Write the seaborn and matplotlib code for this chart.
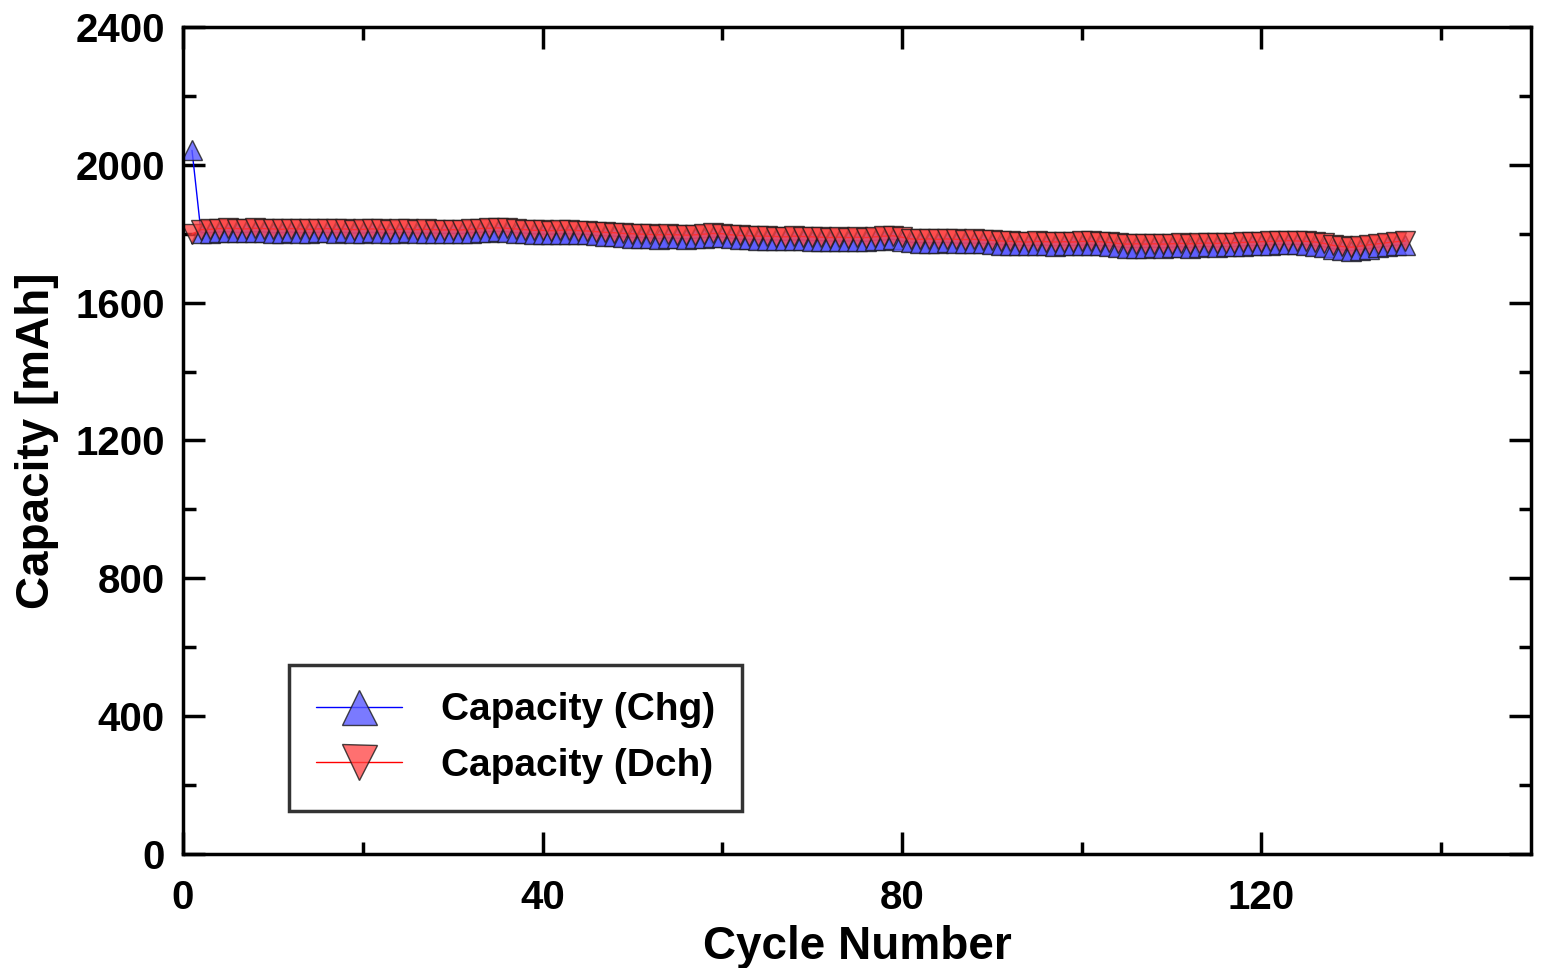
import matplotlib
matplotlib.use("Agg")
import matplotlib.pyplot as plt
import pandas as pd
import numpy as np
import seaborn as sns

# capacity per cycle (mAh)
dch = [1799, 1812, 1813, 1815, 1816, 1815, 1814, 1816, 1815, 1814,
       1813, 1815, 1814, 1813, 1814, 1815, 1813, 1814, 1812, 1813,
       1814, 1813, 1812, 1813, 1814, 1812, 1813, 1812, 1811, 1812,
       1811, 1813, 1815, 1816, 1817, 1816, 1814, 1812, 1810, 1810,
       1809, 1810, 1811, 1809, 1808, 1806, 1804, 1803, 1801, 1800,
       1799, 1798, 1797, 1798, 1797, 1796, 1797, 1799, 1801, 1800,
       1797, 1795, 1794, 1793, 1793, 1792, 1791, 1793, 1792, 1791,
       1790, 1789, 1790, 1789, 1790, 1789, 1791, 1793, 1794, 1790,
       1785, 1784, 1785, 1784, 1785, 1784, 1783, 1784, 1782, 1781,
       1779, 1778, 1777, 1776, 1778, 1777, 1776, 1777, 1776, 1778,
       1778, 1777, 1775, 1772, 1770, 1771, 1770, 1771, 1770, 1771,
       1772, 1771, 1772, 1773, 1772, 1773, 1774, 1775, 1776, 1777,
       1778, 1779, 1780, 1779, 1778, 1776, 1772, 1766, 1763, 1761,
       1764, 1768, 1771, 1774, 1777, 1779]
chg = [2042, 1803, 1803, 1805, 1806, 1804, 1804, 1806, 1805, 1803,
       1803, 1805, 1803, 1803, 1804, 1804, 1803, 1804, 1802, 1802,
       1804, 1803, 1801, 1803, 1804, 1802, 1802, 1802, 1801, 1801,
       1801, 1803, 1804, 1806, 1807, 1806, 1803, 1802, 1800, 1799,
       1799, 1800, 1800, 1799, 1798, 1795, 1794, 1793, 1791, 1789,
       1789, 1788, 1786, 1788, 1787, 1785, 1787, 1789, 1790, 1790,
       1787, 1784, 1784, 1783, 1782, 1782, 1781, 1782, 1782, 1780,
       1780, 1779, 1779, 1779, 1780, 1778, 1781, 1782, 1784, 1779,
       1775, 1774, 1774, 1774, 1775, 1773, 1773, 1773, 1772, 1771,
       1768, 1768, 1767, 1766, 1767, 1767, 1765, 1767, 1766, 1767,
       1768, 1766, 1765, 1762, 1760, 1760, 1760, 1761, 1759, 1761,
       1762, 1760, 1762, 1763, 1761, 1763, 1763, 1765, 1766, 1766,
       1768, 1769, 1769, 1769, 1768, 1765, 1762, 1756, 1753, 1751,
       1754, 1757, 1761, 1764, 1767, 1768]
cycles = list(range(1, len(dch) + 1))

df = pd.DataFrame({'Cycle': cycles, 'Chg': chg, 'Dch': dch})

sns.set_style("ticks")
plt.rcParams['font.family'] = ['Liberation Sans', 'DejaVu Sans']
plt.rcParams['font.weight'] = 'bold'
plt.rcParams.update({'text.color': 'black', 'axes.labelcolor': 'black',
                     'xtick.color': 'black', 'ytick.color': 'black'})

fig = plt.figure(figsize=(15.42, 9.68), dpi=100)
ax = fig.add_axes([0.1187, 0.1178, 0.8742, 0.8543])

sns.lineplot(data=df, x='Cycle', y='Chg', ax=ax, color='#0000ff', linewidth=1,
             marker='^', markersize=14, markerfacecolor=(0.35, 0.35, 1.0, 0.8),
             markeredgecolor=(0.1, 0.1, 0.1, 0.8), markeredgewidth=1,
             label='Capacity (Chg)')
sns.lineplot(data=df, x='Cycle', y='Dch', ax=ax, color='#ff0000', linewidth=1,
             marker='v', markersize=14, markerfacecolor=(1.0, 0.25, 0.25, 0.75),
             markeredgecolor=(0.1, 0.1, 0.1, 0.8), markeredgewidth=1,
             label='Capacity (Dch)')

ax.set_xlim(0, 150)
ax.set_ylim(0, 2400)
ax.set_xticks([0, 40, 80, 120])
ax.set_xticks([20, 60, 100, 140], minor=True)
ax.set_yticks(np.arange(0, 2401, 400))
ax.set_yticks(np.arange(200, 2400, 400), minor=True)

ax.tick_params(which='both', direction='in', top=True, right=True, width=2.5,
               labelsize=29)
ax.tick_params(axis='x', pad=18)
ax.tick_params(axis='y', pad=13)
ax.tick_params(which='major', length=16)
ax.tick_params(which='minor', length=9)
for lab in ax.get_xticklabels() + ax.get_yticklabels():
    lab.set_fontweight('bold')
for sp in ax.spines.values():
    sp.set_linewidth(2.5)
    sp.set_color('black')

ax.set_xlabel('Cycle Number', fontsize=33, fontweight='bold', labelpad=6)
ax.set_ylabel('Capacity [mAh]', fontsize=33, fontweight='bold', labelpad=12)

leg = ax.legend(loc='lower left', bbox_to_anchor=(0.0786, 0.052), borderaxespad=0,
                fontsize=28, markerscale=1.8, handlelength=2.2, handletextpad=1.0,
                fancybox=False, frameon=True, borderpad=0.7, labelspacing=0.5)
leg.get_frame().set_edgecolor('black')
leg.get_frame().set_linewidth(2.5)
for t in leg.get_texts():
    t.set_fontweight('bold')

fig.savefig('out.png', dpi=100)
